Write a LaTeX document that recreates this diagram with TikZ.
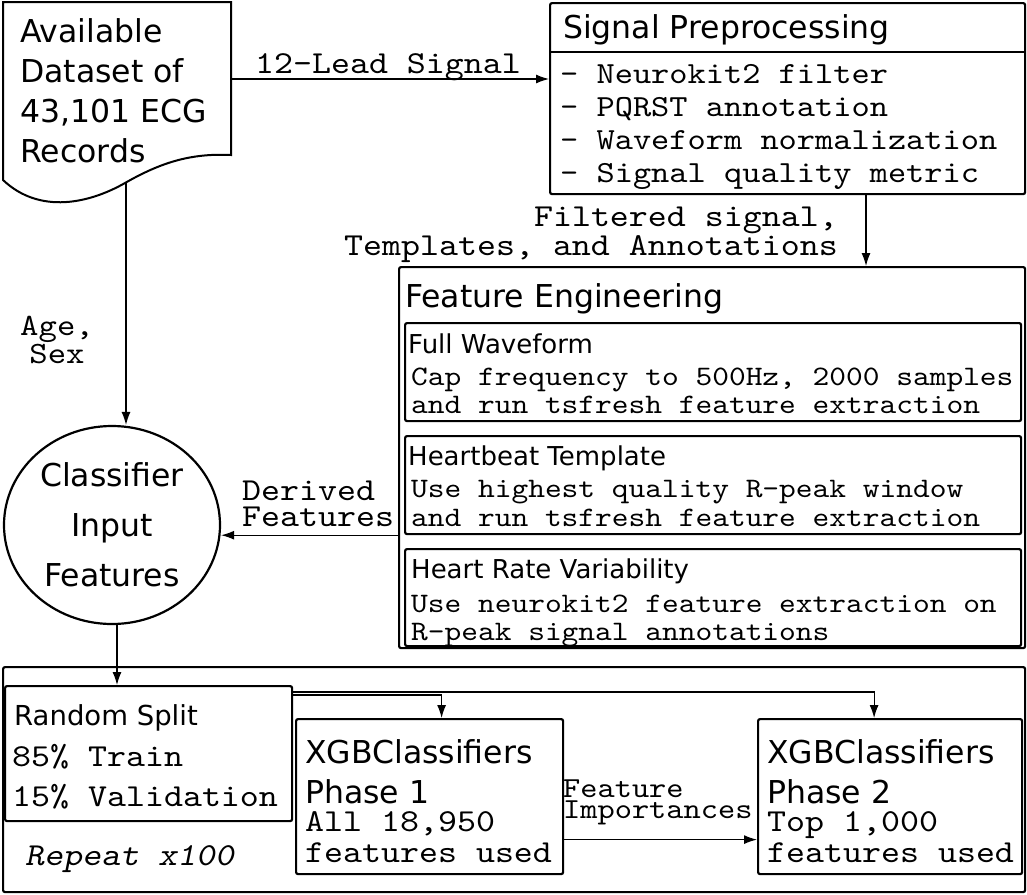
\documentclass[tikz,border=0pt]{standalone}
\usepackage{fontspec}
\setmainfont{DejaVu Sans}
\newfontfamily\codefont{lmmono10-regular.otf}[FakeStretch=1.13]
\newfontfamily\slantcodefont{lmmono10-regular.otf}[FakeStretch=1.13,FakeSlant=0.2]
\usetikzlibrary{arrows.meta,shapes.geometric,positioning}

\tikzset{
  box/.style={draw, line width=2.2pt, rounded corners=2pt, inner sep=0pt, anchor=north west},
  conn/.style={line width=1.2pt, -{Latex[length=13pt,width=9pt]}},
  head/.style={anchor=base west, inner sep=0pt, align=left, font=\fontsize{31.5}{40}\selectfont},
  subhead/.style={anchor=base west, inner sep=0pt, font=\fontsize{26}{32}\selectfont},
  code/.style={anchor=base west, inner sep=0pt, align=left, font=\codefont\fontsize{32}{40}\selectfont},
}

\begin{document}
\begin{tikzpicture}[x=1pt, y=-1pt]
  \useasboundingbox (0,0) rectangle (1027,894);

  % Dataset (document shape); multi-line texts sit on their last baseline
  \draw[line width=2pt] (231,2) -- (231,155)
    .. controls (190,153) and (160,163) .. (125,183)
    .. controls (90,203) and (40,215) .. (3,180) -- (3,2) -- cycle;
  \node[head] (doctext) at (20,162) {Available\\Dataset of\\43,101 ECG\\Records};
  \coordinate (docfoot) at (126,183);
  \coordinate (docout) at (231,79);

  % Signal preprocessing
  \node[box, minimum width=475pt, minimum height=191pt] (prep) at (549,2) {};
  \draw[line width=2.2pt] (prep.west |- 0,52) -- (prep.east |- 0,52);
  \node[head] (preptitle) at (563,38) {Signal Preprocessing};
  \node[code, font=\codefont\fontsize{30.7}{33}\selectfont] (prepitems) at (560,182)
    {- Neurokit2 filter\\- PQRST annotation\\- Waveform normalization\\- Signal quality metric};

  % Feature engineering and its three parts
  \node[box, minimum width=626pt, minimum height=381pt] (fe) at (398,266) {};
  \node[head] (fetitle) at (405,307) {Feature Engineering};
  \node[box, minimum width=616pt, minimum height=98pt] (wave) at (404,322) {};
  \node[box, minimum width=616pt, minimum height=98pt] (beat) at (404,435) {};
  \node[box, minimum width=616pt, minimum height=97pt] (hrv) at (404,548) {};
  \node[subhead] (wavetitle) at (408,353) {Full Waveform};
  \node[code, font=\codefont\fontsize{28.2}{28}\selectfont] (wavetext) at (411,413)
    {Cap frequency to 500Hz, 2000 samples\\and run tsfresh feature extraction};
  \node[subhead] (beattitle) at (408,465) {Heartbeat Template};
  \node[code, font=\codefont\fontsize{28.2}{29}\selectfont] (beattext) at (411,526)
    {Use highest quality R-peak window\\and run tsfresh feature extraction};
  \node[subhead] (hrvtitle) at (411,578) {Heart Rate Variability};
  \node[code, font=\codefont\fontsize{28.2}{28}\selectfont] (hrvtext) at (411,640)
    {Use neurokit2 feature extraction on\\R-peak signal annotations};

  % Classifier inputs
  \node[ellipse, draw, line width=2.2pt, minimum width=216pt, minimum height=198pt,
    inner sep=0pt, align=center, font=\fontsize{31.5}{50}\selectfont] (clf) at (112,525)
    {Classifier\\Input\\Features};

  % Repeated training loop
  \node[box, minimum width=1022pt, minimum height=225pt] (loop) at (2,666) {};
  \node[box, minimum width=287pt, minimum height=135pt] (split) at (4,685) {};
  \node[box, minimum width=267pt, minimum height=155pt] (ph1) at (295,718) {};
  \node[box, minimum width=264pt, minimum height=155pt] (ph2) at (757,718) {};
  \node[head, font=\fontsize{27.5}{40}\selectfont] (splittitle) at (14,725) {Random Split};
  \node[code] (splittext) at (12,806) {85\% Train\\15\% Validation};
  \node[code, font=\slantcodefont\fontsize{32}{40}\selectfont] (repeatlbl) at (25,865) {Repeat x100};
  \node[head] (ph1title) at (305,803) {XGBClassifiers\\Phase 1};
  \node[code, font=\codefont\fontsize{32}{31}\selectfont] (ph1text) at (305,862) {All 18,950\\features used};
  \node[head] (ph2title) at (767,803) {XGBClassifiers\\Phase 2};
  \node[code, font=\codefont\fontsize{32}{31}\selectfont] (ph2text) at (767,862) {Top 1,000\\features used};

  % Connectors
  \draw[conn] (docout) -- (docout -| prep.west);
  \draw[conn] (prep.south -| 866,0) -- (fe.north -| 866,0);
  \draw[conn] (docfoot) -- (docfoot |- clf.north);
  \draw[conn] (fe.west |- beat.south) -- (clf.east |- beat.south);
  \draw[conn] ([xshift=5pt]clf.south) -- ([xshift=5pt]clf.south |- split.north);
  \draw[conn] ([yshift=-10pt]split.north east) -| ([xshift=12pt]ph1.north);
  \draw[conn] ([yshift=-7pt]split.north east) -| ([xshift=-16pt]ph2.north);
  \draw[conn] ([yshift=-43pt]ph1.east) -- ([yshift=-43pt]ph1.east -| ph2.west);

  % Connector labels
  \node[code, anchor=base] (leadlbl) at (388,73) {12-Lead Signal};
  \node[code, anchor=base east, align=right, font=\codefont\fontsize{32}{29}\selectfont] (filtlbl) at (838,255)
    {Filtered signal,\\Templates, and Annotations};
  \node[code, font=\codefont\fontsize{31}{25}\selectfont, anchor=base, align=center] (agelbl) at (57,363) {Age,\\Sex};
  \node[code, font=\codefont\fontsize{32}{26}\selectfont] (derivlbl) at (242,526) {Derived\\Features};
  \node[code, font=\codefont\fontsize{29}{21}\selectfont] (implbl) at (563,818) {Feature\\Importances};
\end{tikzpicture}
\end{document}
